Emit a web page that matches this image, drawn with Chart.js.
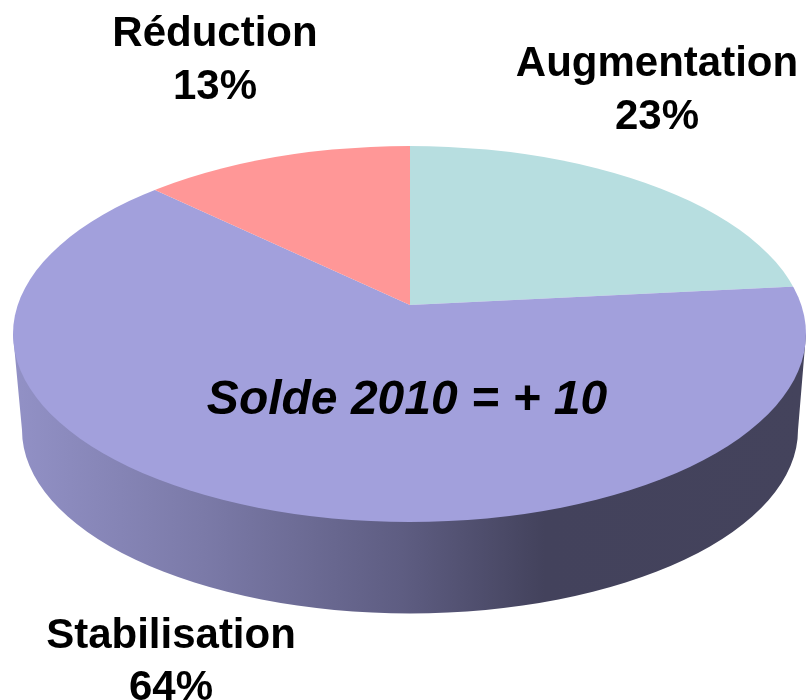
<!DOCTYPE html>
<html>
<head>
<meta charset="utf-8">
<style>html,body{margin:0;padding:0;background:#fff}canvas{display:block}</style>
<script src="https://cdn.jsdelivr.net/npm/chart.js@4"></script>
</head>
<body>
<canvas id="c" width="806" height="700"></canvas>
<script>
const categories = ["Augmentation", "Stabilisation", "Réduction"];
const values = [23.4, 63.7, 12.9];
const colors = ["#B7DEE0", "#A2A0DC", "#FF9797"];
const labelPositions = [[657, 76, 129], [171, 648, 700], [215, 46, 99]];
const centerNote = "Solde 2010 = + 10";

const pie3d = {
  id: "pie3d",
  beforeDatasetsDraw(chart) {
    const ctx = chart.ctx;
    const arc = chart.getDatasetMeta(0).data[0];
    const g = ctx.createLinearGradient(13, 0, 806, 0);
    g.addColorStop(0, "#9291C6");
    g.addColorStop(0.24, "#7B7AA8");
    g.addColorStop(0.49, "#5E5D82");
    g.addColorStop(0.67, "#43425C");
    g.addColorStop(1, "#44435C");
    ctx.save();
    ctx.fillStyle = g;
    ctx.beginPath();
    ctx.moveTo(13, 334);
    ctx.lineTo(22, 430);
    ctx.ellipse(410, 430, 388, 183.5, 0, Math.PI, 0, true);
    ctx.lineTo(806, 334);
    ctx.closePath();
    ctx.fill();
    ctx.restore();
    ctx.save();
    ctx.beginPath();
    ctx.ellipse(409.5, 334, 396.5, 188, 0, 0, Math.PI * 2);
    ctx.clip();
    ctx.translate(410, 305);
    ctx.scale(1.5, 1.5 * 188 / 396.5);
    ctx.translate(-arc.x, -arc.y);
  },
  afterDatasetsDraw(chart) {
    const ctx = chart.ctx;
    ctx.restore();
    ctx.save();
    ctx.fillStyle = "#000";
    ctx.textAlign = "center";
    ctx.textBaseline = "alphabetic";
    ctx.font = 'bold 42px "Liberation Sans"';
    categories.forEach((name, i) => {
      const [x, y1, y2] = labelPositions[i];
      ctx.fillText(name, x, y1);
      ctx.fillText(Math.round(values[i]) + "%", x, y2);
    });
    ctx.font = 'italic bold 48px "Liberation Sans"';
    ctx.fillText(centerNote, 407, 414);
    ctx.restore();
  }
};

new Chart(document.getElementById("c"), {
  type: "pie",
  data: {
    labels: categories,
    datasets: [{ data: values, backgroundColor: colors, borderWidth: 0 }]
  },
  options: {
    responsive: false,
    animation: false,
    layout: { padding: 0 },
    plugins: { legend: { display: false }, tooltip: { enabled: false } }
  },
  plugins: [pie3d]
});
</script>
</body>
</html>
